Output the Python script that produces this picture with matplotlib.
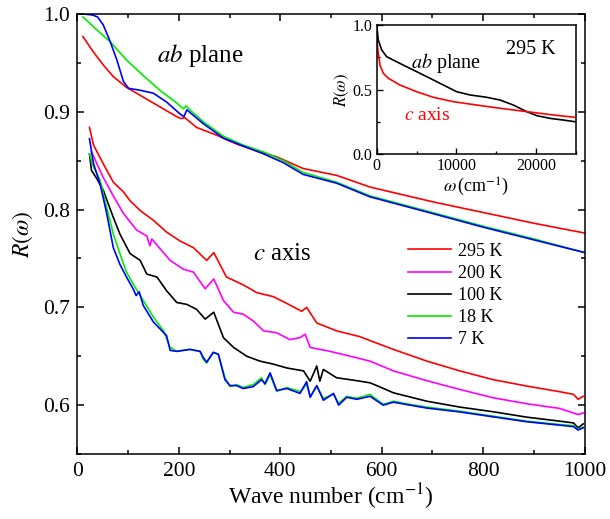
import numpy as np
import matplotlib
matplotlib.use('Agg')
import matplotlib.pyplot as plt

plt.rcParams['font.family'] = ['Liberation Serif', 'DejaVu Serif']
plt.rcParams['mathtext.fontset'] = 'stix'

# ab plane reflectivity
ab_x_295 = [11, 32, 51, 71, 97, 130, 163, 196, 205, 212, 235, 275, 314, 354, 393, 445, 511, 577, 700, 800, 900, 1000]
ab_r_295 = [0.977, 0.961, 0.948, 0.936, 0.925, 0.915, 0.905, 0.895, 0.893, 0.894, 0.884, 0.876, 0.867, 0.860, 0.854,
            0.842, 0.835, 0.823, 0.808, 0.797, 0.786, 0.776]
ab_x_18 = [11, 38, 64, 97, 130, 163, 196, 209, 214, 222, 248, 288, 327, 367, 406, 445, 511, 577, 700, 800, 900, 1000]
ab_r_18 = [0.997, 0.984, 0.972, 0.953, 0.937, 0.922, 0.909, 0.903, 0.906, 0.902, 0.890, 0.875, 0.866, 0.859, 0.850,
           0.838, 0.828, 0.814, 0.797, 0.783, 0.770, 0.756]
ab_x_7 = [12, 30, 40, 51, 64, 78, 91, 101, 124, 150, 176, 202, 210, 216, 225, 248, 288, 327, 367, 406, 445, 511, 577,
          700, 800, 900, 1000]
ab_r_7 = [1.000, 0.999, 0.997, 0.989, 0.973, 0.953, 0.931, 0.924, 0.922, 0.919, 0.910, 0.898, 0.895, 0.902, 0.898,
          0.888, 0.873, 0.865, 0.857, 0.848, 0.836, 0.827, 0.813, 0.796, 0.782, 0.769, 0.756]

# c axis reflectivity
c_x_295 = [24, 32, 51, 71, 91, 104, 124, 150, 176, 202, 229, 255, 269, 294, 327, 354, 386, 413, 442, 452, 472, 511,
           557, 577, 623, 689, 754, 820, 886, 951, 978, 987, 997]
c_r_295 = [0.884, 0.866, 0.847, 0.828, 0.818, 0.809, 0.799, 0.789, 0.777, 0.768, 0.761, 0.748, 0.756, 0.731, 0.723,
           0.715, 0.711, 0.704, 0.696, 0.700, 0.684, 0.676, 0.670, 0.666, 0.657, 0.645, 0.635, 0.626, 0.6195, 0.6137,
           0.611, 0.606, 0.609]
c_x_200 = [28, 51, 71, 91, 117, 137, 143, 147, 163, 183, 209, 229, 252, 269, 288, 308, 327, 347, 367, 393, 419, 439,
           449, 459, 498, 538, 577, 623, 689, 754, 820, 886, 951, 987, 998]
c_r_200 = [0.859, 0.833, 0.814, 0.796, 0.779, 0.773, 0.763, 0.770, 0.760, 0.748, 0.739, 0.736, 0.719, 0.729, 0.707,
           0.695, 0.693, 0.686, 0.676, 0.674, 0.667, 0.669, 0.6725, 0.659, 0.655, 0.650, 0.645, 0.635, 0.625, 0.616,
           0.6075, 0.6014, 0.5966, 0.5904, 0.592]
c_x_100 = [24, 28, 38, 51, 71, 84, 104, 124, 137, 157, 176, 196, 216, 235, 252, 269, 288, 308, 334, 360, 386, 413,
           446, 459, 472, 478, 485, 511, 551, 577, 597, 623, 689, 754, 820, 886, 951, 978, 987, 997]
c_r_100 = [0.857, 0.840, 0.832, 0.820, 0.792, 0.775, 0.755, 0.748, 0.734, 0.731, 0.717, 0.705, 0.703, 0.698, 0.688,
           0.695, 0.669, 0.659, 0.650, 0.645, 0.642, 0.638, 0.635, 0.6245, 0.640, 0.6245, 0.6365, 0.628, 0.625,
           0.6228, 0.6185, 0.6126, 0.604, 0.598, 0.5932, 0.5877, 0.5836, 0.5818, 0.5767, 0.5808]
c_x_18 = [24, 32, 45, 58, 71, 84, 97, 110, 130, 150, 170, 183, 196, 222, 242, 248, 255, 268, 278, 291, 301, 314, 327,
          347, 363, 370, 380, 393, 413, 439, 452, 459, 472, 485, 505, 515, 531, 551, 577, 603, 623, 656, 689, 754, 820,
          886, 951, 978, 987, 997]
c_r_18 = [0.857, 0.8435, 0.830, 0.802, 0.775, 0.755, 0.736, 0.724, 0.707, 0.690, 0.676, 0.659, 0.655, 0.657, 0.655,
          0.647, 0.643, 0.654, 0.652, 0.628, 0.619, 0.621, 0.618, 0.621, 0.628, 0.621, 0.631, 0.614, 0.618, 0.614,
          0.621, 0.609, 0.619, 0.607, 0.611, 0.602, 0.609, 0.607, 0.611, 0.6007, 0.604, 0.6007, 0.598, 0.5938,
          0.5887, 0.5836, 0.5802, 0.579, 0.5753, 0.5774]
c_x_7 = [24, 32, 45, 58, 71, 84, 97, 110, 116, 122, 130, 150, 176, 183, 196, 222, 242, 248, 255, 268, 278, 291, 301,
         314, 327, 347, 363, 370, 380, 393, 413, 439, 452, 459, 472, 485, 505, 515, 531, 551, 577, 603, 623, 656, 689,
         754, 820, 886, 951, 978, 987, 997]
c_r_7 = [0.8725, 0.847, 0.826, 0.796, 0.761, 0.744, 0.731, 0.719, 0.712, 0.716, 0.702, 0.685, 0.671, 0.656, 0.655,
         0.657, 0.655, 0.649, 0.644, 0.654, 0.652, 0.626, 0.620, 0.620, 0.617, 0.619, 0.626, 0.622, 0.633, 0.615,
         0.617, 0.612, 0.624, 0.608, 0.620, 0.605, 0.612, 0.600, 0.608, 0.606, 0.609, 0.600, 0.603, 0.600, 0.597,
         0.593, 0.588, 0.583, 0.5795, 0.578, 0.5745, 0.5768]

# inset, 295 K over wide range
in_x_ab = [0, 200, 627, 1255, 2083, 3340, 5020, 6690, 8360, 10040, 11710, 13800, 15470, 17140, 18820, 20080, 21740,
           23410, 24880]
in_r_ab = [1.0, 0.884, 0.807, 0.755, 0.729, 0.690, 0.639, 0.588, 0.536, 0.484, 0.459, 0.441, 0.420, 0.381, 0.330,
           0.299, 0.278, 0.265, 0.252]
in_x_c = [0, 200, 418, 836, 1464, 2920, 5020, 7100, 9610, 12550, 15470, 18820, 22160, 24880]
in_r_c = [0.889, 0.781, 0.690, 0.626, 0.588, 0.536, 0.484, 0.441, 0.407, 0.381, 0.356, 0.330, 0.304, 0.286]

legend_labels = ['295 K', '200 K', '100 K', '18 K', '7 K']
colors = ['#ff0000', '#ff00ff', '#000000', '#00ee00', '#0000ff']

fig = plt.figure(figsize=(6.1, 5.19), dpi=100)
ax = fig.add_axes([0.1267, 0.1252, 0.8318, 0.8478])

lw = 1.2
ax.plot(ab_x_295, ab_r_295, color=colors[0], lw=lw)
ax.plot(ab_x_18, ab_r_18, color=colors[3], lw=lw)
ax.plot(ab_x_7, ab_r_7, color=colors[4], lw=lw)

c_x = [c_x_295, c_x_200, c_x_100, c_x_18, c_x_7]
c_r = [c_r_295, c_r_200, c_r_100, c_r_18, c_r_7]
for xs, rs, col, lab in zip(c_x, c_r, colors, legend_labels):
    ax.plot(xs, rs, color=col, lw=lw, label=lab)

ax.set_xlim(0, 1000)
ax.set_ylim(0.55, 1.0)
ax.set_xticks(np.arange(0, 1001, 200))
ax.set_xticks(np.arange(0, 1001, 100), minor=True)
ax.set_yticks([0.6, 0.7, 0.8, 0.9, 1.0])
ax.set_yticks(np.arange(0.55, 1.001, 0.05), minor=True)
ax.set_yticklabels(['0.6', '0.7', '0.8', '0.9', '1.0'])
ax.tick_params(which='both', direction='in', top=True, right=True, width=1.1)
ax.tick_params(which='major', length=5, labelsize=15.5)
ax.tick_params(which='minor', length=3)
ax.tick_params(axis='x', pad=6)
ax.tick_params(axis='y', pad=5)
for s in ax.spines.values():
    s.set_linewidth(1.1)
ax.set_xlabel('Wave number (cm$^{-1}$)', fontsize=17, labelpad=0)
ax.set_ylabel(r'$R(\omega)$', fontsize=17, labelpad=6)

ax.text(242, 0.951, '$ab$ plane', fontsize=18, ha='center', va='baseline')
ax.text(405, 0.748, '$c$ axis', fontsize=18, ha='center', va='baseline')

ax.legend(loc='upper left', bbox_to_anchor=(0.652, 0.48), frameon=False, fontsize=13,
          borderpad=0, borderaxespad=0, handlelength=2.4, handletextpad=0.35, labelspacing=0.28)

# inset
axi = fig.add_axes([0.6175, 0.7027, 0.3267, 0.2491])
axi.plot(in_x_ab, in_r_ab, color='black', lw=lw)
axi.plot(in_x_c, in_r_c, color='#ff0000', lw=lw)
axi.set_xlim(0, 25000)
axi.set_ylim(0, 1.0)
axi.set_xticks([0, 10000, 20000])
axi.set_xticks(np.arange(0, 25001, 5000), minor=True)
axi.set_yticks([0.0, 0.5, 1.0])
axi.set_yticks([0.25, 0.75], minor=True)
axi.set_yticklabels(['0.0', '0.5', '1.0'])
axi.tick_params(which='both', direction='in', width=1.0)
axi.tick_params(which='major', length=4, labelsize=11.5, pad=3)
axi.tick_params(which='minor', length=2.5)
for s in axi.spines.values():
    s.set_linewidth(1.1)
axi.set_xlabel(r'$\omega\,$(cm$^{-1}$)', fontsize=13, labelpad=1)
axi.set_ylabel(r'$R(\omega)$', fontsize=12, labelpad=1)
axi.text(19360, 0.776, '295 K', fontsize=14.5, ha='center', va='baseline')
axi.text(8700, 0.665, '$ab$ plane', fontsize=14.5, ha='center', va='baseline')
axi.text(6310, 0.265, '$c$ axis', fontsize=14, ha='center', va='baseline', color='#ff0000')

fig.savefig('out.png', dpi=100)
